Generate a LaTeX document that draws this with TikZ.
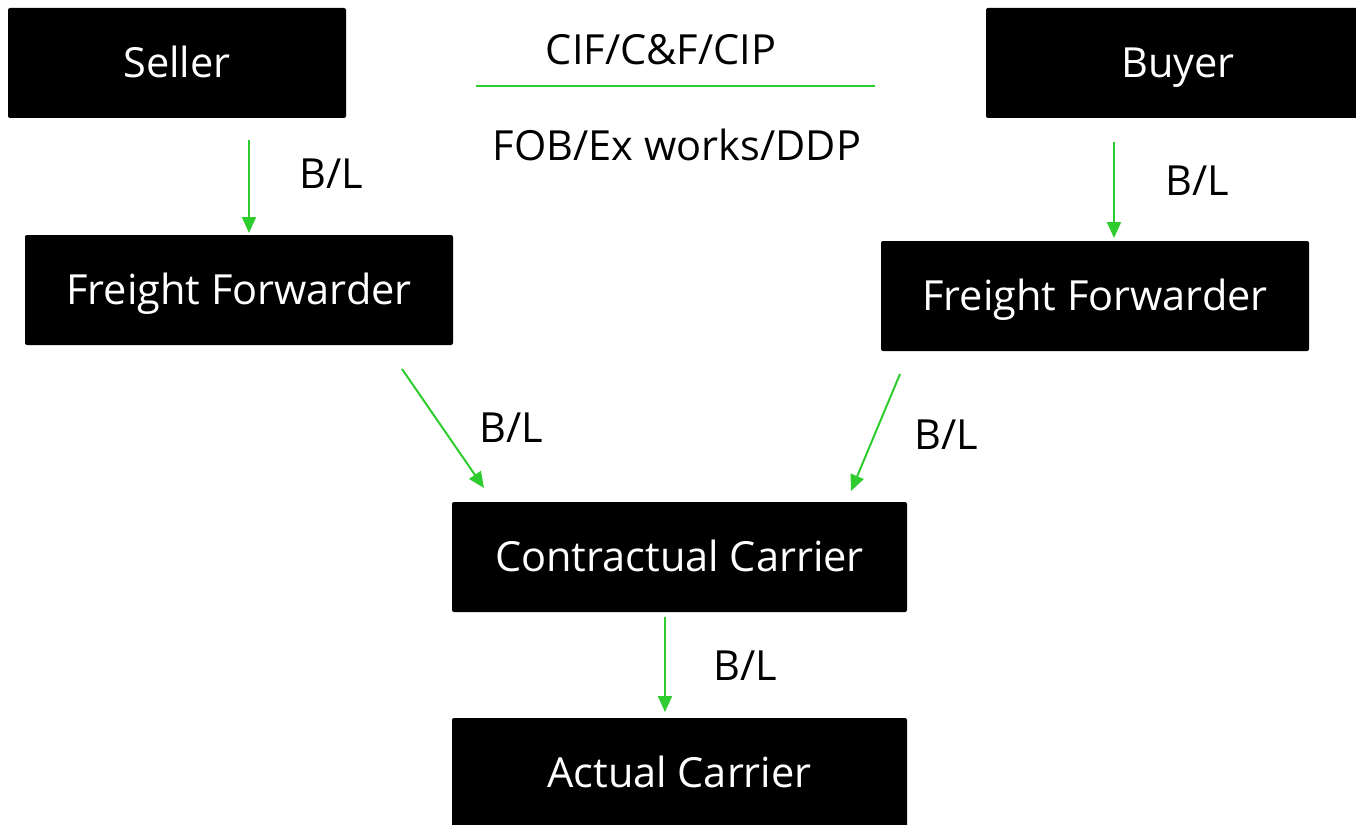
\documentclass[tikz,border=0pt]{standalone}
\usepackage{fontspec}
\setmainfont{Open Sans}
\usetikzlibrary{arrows.meta}
\definecolor{lgreen}{RGB}{46,204,46}
\tikzset{
  box/.style={fill=black, rounded corners=2pt, text=white, inner sep=0pt, anchor=center, text height=29pt, text depth=0pt},
  lbl/.style={text=black, inner sep=0pt, anchor=center},
  arr/.style={draw=lgreen, line width=2pt, -{Triangle[length=16pt,width=14pt]}},
}
\begin{document}
\begin{tikzpicture}[x=1pt,y=-1pt, font=\fontsize{41.5}{48}\selectfont]
\useasboundingbox (0,0) rectangle (1356,824);
\clip (0,0) rectangle (1356,824);
% boxes
\node[box, minimum width=338pt, minimum height=110pt] (seller) at (177,63) {Seller};
\node[box, minimum width=384pt, minimum height=110pt] (buyer) at (1178,63) {Buyer};
\node[box, minimum width=428pt, minimum height=110pt] (ffl) at (239,290) {Freight Forwarder};
\node[box, minimum width=428pt, minimum height=110pt] (ffr) at (1095,296) {Freight Forwarder};
\node[box, minimum width=455pt, minimum height=110pt] (cc) at (679.5,557) {Contractual Carrier};
\node[box, minimum width=455pt, minimum height=110pt] (ac) at (679.5,773) {Actual Carrier};
% centre texts
\node[lbl] (cif) at (661,50) {CIF/C\&F/CIP};
\node[lbl] (fob) at (677,145) {FOB/Ex works/DDP};
\coordinate (hl1) at (476,86);
\coordinate (hl2) at (875,86);
\draw[lgreen, line width=2pt] (hl1) -- (hl2);
% arrow endpoints
\coordinate (a1s) at (249,140); \coordinate (a1e) at (249,233);
\coordinate (a2s) at (1114,142); \coordinate (a2e) at (1114,238);
\coordinate (a3s) at (402,369); \coordinate (a3e) at (484,488);
\coordinate (a4s) at (900,374); \coordinate (a4e) at (851,491);
\coordinate (a5s) at (665,617); \coordinate (a5e) at (665,712);
\draw[arr] (a1s) -- (a1e);
\draw[arr] (a2s) -- (a2e);
\draw[arr] (a3s) -- (a3e);
\draw[arr] (a4s) -- (a4e);
\draw[arr] (a5s) -- (a5e);
% B/L labels
\node[lbl] (bl1) at (331,174) {B/L};
\node[lbl] (bl2) at (1197,181) {B/L};
\node[lbl] (bl3) at (511,428) {B/L};
\node[lbl] (bl4) at (946,435) {B/L};
\node[lbl] (bl5) at (745,666) {B/L};
\end{tikzpicture}
\end{document}
